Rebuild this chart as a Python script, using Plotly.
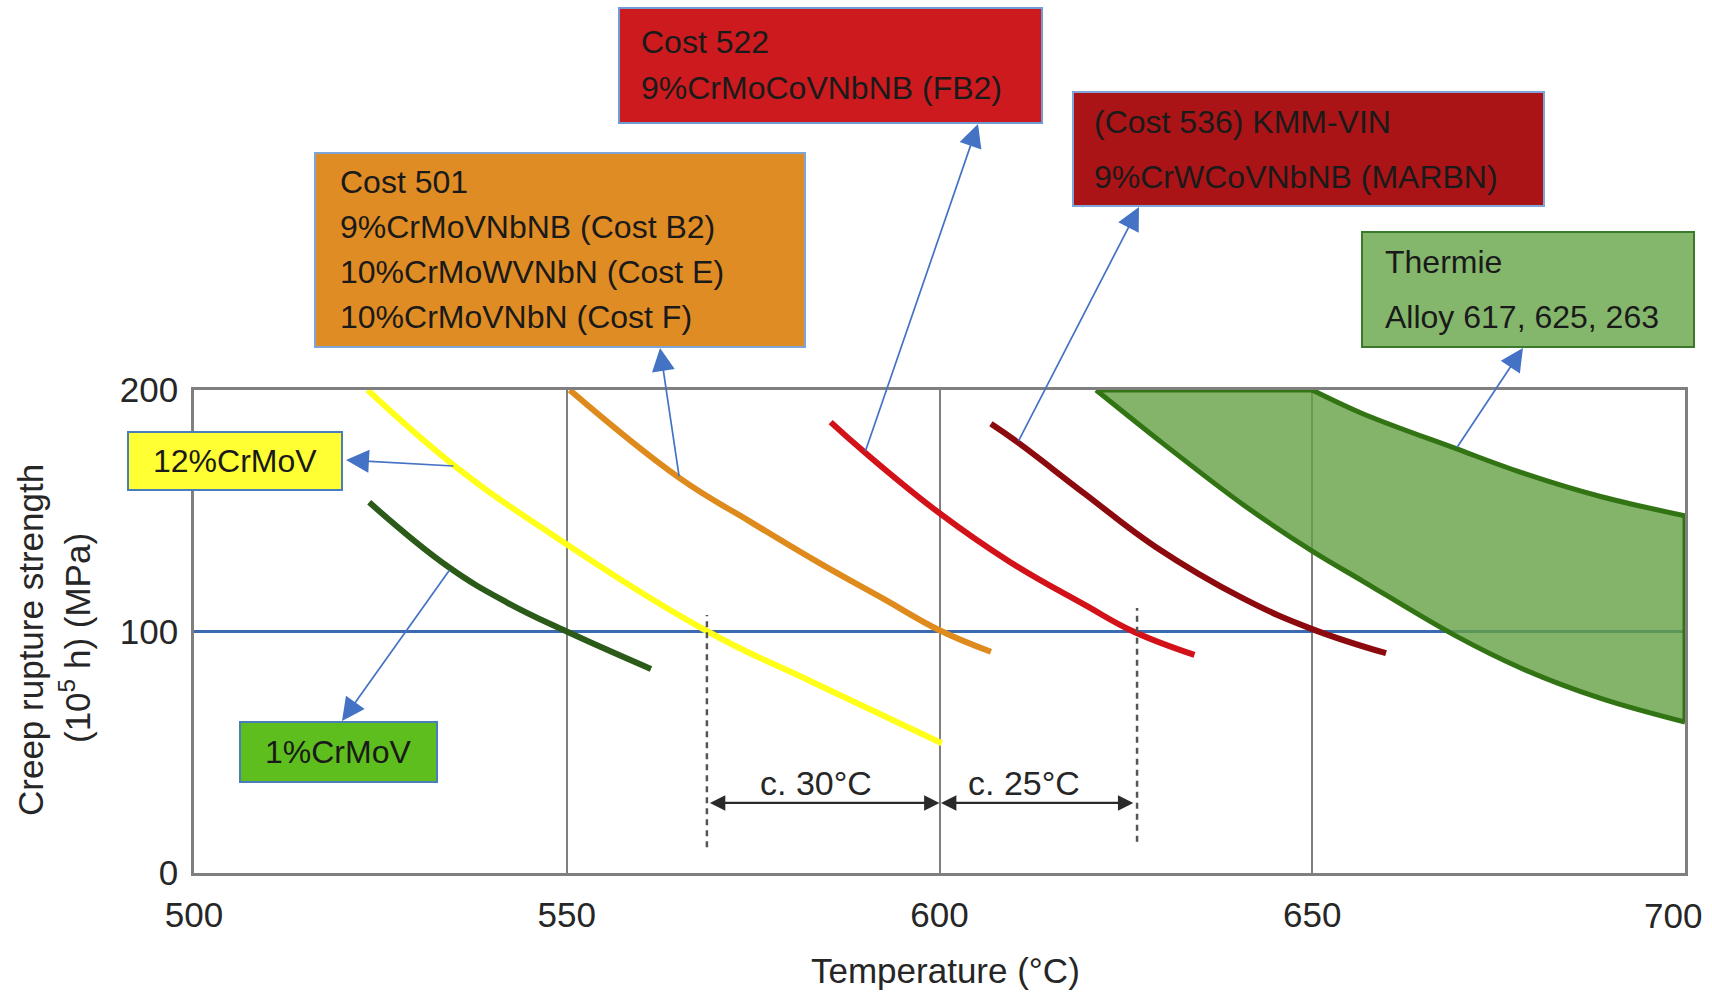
import plotly.graph_objects as go

# ---------------- data ----------------
yellow_T = [523.3, 535.0, 547.8, 568.9, 583.0, 600.3]                 # 12%CrMoV
yellow_S = [200.0, 168.5, 140.6, 100.0, 79.0, 53.7]
dkgreen_T = [523.5, 534.0, 542.0, 550.0, 561.3]                       # 1%CrMoV
dkgreen_S = [153.5, 127.0, 112.0, 100.0, 84.5]
orange_T = [550.4, 565.1, 574.6, 583.8, 592.5, 600.0, 606.9]          # Cost 501
orange_S = [200.0, 163.6, 145.5, 128.5, 113.5, 100.5, 91.6]
red_T = [585.4, 590.0, 600.0, 609.5, 619.5, 626.0, 634.2]             # Cost 522 FB2
red_S = [186.7, 174.1, 149.0, 128.7, 111.0, 100.0, 90.3]
darkred_T = [606.9, 610.5, 619.5, 629.0, 640.6, 650.0, 659.9]         # MARBN
darkred_S = [186.0, 178.3, 157.0, 135.0, 113.9, 101.0, 91.0]
band_up_T = [650.0, 656.7, 669.3, 678.1, 688.8, 700.0]                # Thermie upper
band_up_S = [200.0, 190.3, 175.7, 165.8, 155.8, 147.9]
band_lo_T = [621.0, 630.0, 640.6, 650.0, 656.7, 669.0, 678.1, 688.8, 700.0]  # lower
band_lo_S = [200.0, 177.8, 152.8, 133.3, 121.0, 98.6, 84.7, 72.2, 62.5]
ref_T = [500, 700]
ref_S = [100, 100]
dash_T = [568.8, 626.5]
dash_lo = [10.7, 12.9]
dash_hi = [106.8, 109.7]
dim1_T = [569.0, 600.0]
dim2_T = [600.0, 626.0]
dim_S = 29.0
dim_labels = ["c. 30°C", "c. 25°C"]
dim_label_T = [583.4, 611.4]
dim_label_S = 37.4
x_ticks = [500, 550, 600, 650, 700]
x_tick_text = ["500", "550", "600", "650", "700"]
y_ticks = [0, 100, 200]

# ---------------- layout geometry ----------------
W, H = 1712, 992
ML, MR, MT, MB = 194, 27, 390, 119
PW, PH = W - ML - MR, H - MT - MB
FONT = "Liberation Sans, Arial, sans-serif"
TXT = "#262626"


def PX(px):
    return (px - ML) / PW


def PY(py):
    return (H - MB - py) / PH


def d2px(T, S):
    return ML + (T - 500) / 200 * PW, MT + (200 - S) / 200 * PH


fig = go.Figure()

# 100 MPa reference line
fig.add_trace(go.Scatter(x=ref_T, y=ref_S, mode="lines",
                         line=dict(color="#3a6bb0", width=3), hoverinfo="skip"))

# Thermie band: upper curve, lower curve filled to it, flat top and right edge
BAND = "#327314"
fig.add_trace(go.Scatter(x=band_up_T, y=band_up_S, mode="lines",
                         line=dict(color=BAND, width=5, shape="spline", smoothing=1.0),
                         hoverinfo="skip"))
fig.add_trace(go.Scatter(x=band_lo_T, y=band_lo_S, mode="lines", fill="tonexty",
                         fillcolor="rgba(101,161,69,0.80)",
                         line=dict(color=BAND, width=5, shape="spline", smoothing=1.0),
                         hoverinfo="skip"))
fig.add_trace(go.Scatter(x=[band_lo_T[0], band_up_T[0]], y=[band_lo_S[0], band_up_S[0]],
                         mode="lines", line=dict(color=BAND, width=5), hoverinfo="skip"))
fig.add_trace(go.Scatter(x=[band_up_T[-1], band_lo_T[-1]], y=[band_up_S[-1], band_lo_S[-1]],
                         mode="lines", line=dict(color=BAND, width=5), hoverinfo="skip"))

# alloy curves
for T, S, c in [(yellow_T, yellow_S, "#ffff1a"),
                (dkgreen_T, dkgreen_S, "#2b5a19"),
                (orange_T, orange_S, "#de8a1c"),
                (red_T, red_S, "#d21218"),
                (darkred_T, darkred_S, "#8c0a0e")]:
    fig.add_trace(go.Scatter(x=T, y=S, mode="lines",
                             line=dict(color=c, width=6, shape="spline", smoothing=1.2),
                             hoverinfo="skip"))

# dashed verticals
for t, lo, hi in zip(dash_T, dash_lo, dash_hi):
    fig.add_trace(go.Scatter(x=[t, t], y=[lo, hi], mode="lines",
                             line=dict(color="#555555", width=2.5, dash="6px,5px"),
                             hoverinfo="skip"))

shapes = []
annotations = []

# dimension arrows (double headed)
for pair in (dim1_T, dim2_T):
    annotations.append(dict(x=pair[1], y=dim_S, ax=pair[0], ay=dim_S, xref="x", yref="y",
                            axref="x", ayref="y", text="", showarrow=True,
                            arrowhead=2, arrowside="end+start", arrowsize=1.4,
                            arrowwidth=2.2, arrowcolor="#2a2a2a", standoff=0, startstandoff=0))
for lab, t in zip(dim_labels, dim_label_T):
    annotations.append(dict(x=t, y=dim_label_S, xref="x", yref="y", text=lab,
                            showarrow=False, font=dict(family=FONT, size=34, color=TXT),
                            xanchor="center", yanchor="middle"))

# label boxes (pixel geometry)
boxes = [
    (619, 8, 1042, 123, "#cc1a1e", "#6f9bd6"),
    (315, 153, 805, 347, "#e08c24", "#7ea6d8"),
    (1073, 92, 1544, 206, "#aa1416", "#7ea6d8"),
    (1362, 232, 1694, 347, "#84b76c", "#3a7a2a"),
    (128, 432, 342, 490, "#ffff33", "#4a7ebb"),
    (240, 722, 437, 782, "#5dbe1e", "#4a7ebb"),
]
for x0, y0, x1, y1, fc, lc in boxes:
    shapes.append(dict(type="rect", xref="paper", yref="paper",
                       x0=PX(x0), x1=PX(x1), y0=PY(y1), y1=PY(y0),
                       fillcolor=fc, line=dict(color=lc, width=2), layer="above"))

box_text = [
    (639, 42, "Cost 522", "left"),
    (639, 88, "9%CrMoCoVNbNB (FB2)", "left"),
    (338, 182, "Cost 501", "left"),
    (338, 227, "9%CrMoVNbNB (Cost B2)", "left"),
    (338, 272, "10%CrMoWVNbN (Cost E)", "left"),
    (338, 317, "10%CrMoVNbN (Cost F)", "left"),
    (1092, 122, "(Cost 536) KMM-VIN", "left"),
    (1092, 177, "9%CrWCoVNbNB (MARBN)", "left"),
    (1383, 262, "Thermie", "left"),
    (1383, 317, "Alloy 617, 625, 263", "left"),
    (235, 461, "12%CrMoV", "center"),
    (338, 752, "1%CrMoV", "center"),
]
for x, y, t, anc in box_text:
    annotations.append(dict(x=PX(x), y=PY(y), xref="paper", yref="paper", text=t,
                            showarrow=False, xanchor=anc, yanchor="middle",
                            font=dict(family=FONT, size=32, color="#1a1a1a")))

# pointer arrows: tail on curve (data), head at box (pixel)
pointers = [
    ((535.0, 168.5), (346, 460)),
    ((534.4, 126.0), (342, 721)),
    ((565.1, 163.6), (660, 348)),
    ((590.0, 174.1), (978, 124)),
    ((610.5, 178.3), (1139, 207)),
    ((669.3, 175.7), (1523, 348)),
]
for (tT, tS), (hx, hy) in pointers:
    tx, ty = d2px(tT, tS)
    annotations.append(dict(x=PX(hx), y=PY(hy), xref="paper", yref="paper", text="",
                            showarrow=True, ax=tx - hx, ay=ty - hy, axref="pixel", ayref="pixel",
                            arrowhead=2, arrowsize=2.7, arrowwidth=1.7, arrowcolor="#4472c4",
                            standoff=0))

# last x tick label, nudged inside the page like in the reference
annotations.append(dict(x=x_ticks[-1], y=PY(915), xref="x", yref="paper",
                        text=x_tick_text[-1], showarrow=False, xanchor="center",
                        yanchor="middle", xshift=-12,
                        font=dict(family=FONT, size=35, color=TXT)))

# axis titles
annotations.append(dict(x=PX(945), y=PY(970), xref="paper", yref="paper",
                        text="Temperature (°C)", showarrow=False, xanchor="center",
                        yanchor="middle", font=dict(family=FONT, size=35, color=TXT)))
annotations.append(dict(x=PX(30), y=PY(640), xref="paper", yref="paper",
                        text="Creep rupture strength", showarrow=False, textangle=-90,
                        xanchor="center", yanchor="middle",
                        font=dict(family=FONT, size=35, color=TXT)))
annotations.append(dict(x=PX(75), y=PY(638), xref="paper", yref="paper",
                        text="(10<sup>5</sup> h) (MPa)", showarrow=False, textangle=-90,
                        xanchor="center", yanchor="middle",
                        font=dict(family=FONT, size=35, color=TXT)))

fig.update_layout(
    width=W, height=H, autosize=False,
    margin=dict(l=ML, r=MR, t=MT, b=MB, pad=0),
    paper_bgcolor="white", plot_bgcolor="white",
    showlegend=False,
    shapes=shapes, annotations=annotations,
    xaxis=dict(range=[500, 700], tickvals=x_ticks[:-1], ticktext=x_tick_text[:-1],
               showgrid=True, gridcolor="#7f7f7f",
               gridwidth=2, showline=True, mirror=True, linecolor="#7f7f7f", linewidth=2.5,
               ticks="", zeroline=False, ticklabelstandoff=9,
               tickfont=dict(family=FONT, size=35, color=TXT)),
    yaxis=dict(range=[0, 200], tickvals=y_ticks, showgrid=False, showline=True, mirror=True,
               linecolor="#7f7f7f", linewidth=2.5, ticks="", zeroline=False,
               ticklabelstandoff=6, ticklabeloverflow="allow",
               tickfont=dict(family=FONT, size=35, color=TXT)),
)

fig.write_html("out.html")
